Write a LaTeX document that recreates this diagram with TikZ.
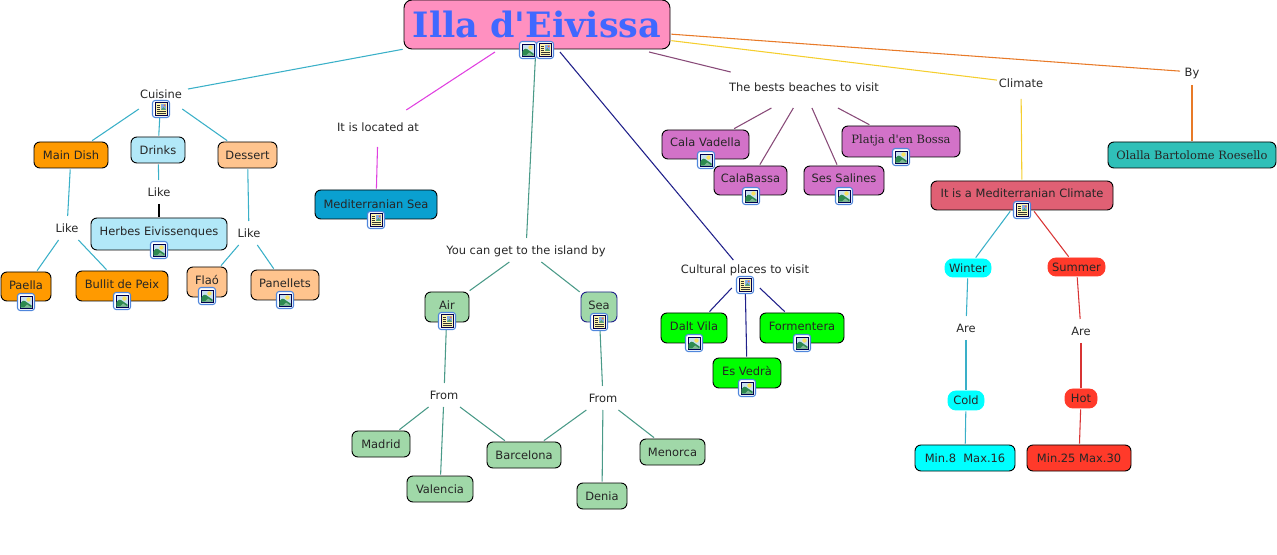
\documentclass[tikz,border=0pt]{standalone}
\usepackage{fontspec}
\setmainfont{DejaVu Sans}
\newfontfamily\titlefont{DejaVu Serif}
\usetikzlibrary{positioning}
\definecolor{titlepink}{HTML}{FF90C0}
\definecolor{titleblue}{HTML}{4068FF}
\definecolor{dishorange}{HTML}{FF9A00}
\definecolor{herbblue}{HTML}{B2E8F8}
\definecolor{sweetpeach}{HTML}{FFC48E}
\definecolor{seablue}{HTML}{0AA0D0}
\definecolor{beachorchid}{HTML}{D272C8}
\definecolor{placegreen}{HTML}{00FF00}
\definecolor{citygreen}{HTML}{A0D8A8}
\definecolor{climatered}{HTML}{E06074}
\definecolor{coldcyan}{HTML}{00FFFF}
\definecolor{hotred}{HTML}{FF3A2A}
\definecolor{authorteal}{HTML}{30C0B8}
\definecolor{linkteal}{HTML}{3AB0C8}
\definecolor{linkmagenta}{HTML}{E040E0}
\definecolor{linkgreen}{HTML}{4A9A88}
\definecolor{linknavy}{HTML}{20208A}
\definecolor{linkplum}{HTML}{884A78}
\definecolor{linkyellow}{HTML}{F5CE2E}
\definecolor{linkorange}{HTML}{E87A28}
\definecolor{linkred}{HTML}{D83434}
\definecolor{iconframe}{HTML}{4F86DC}
\definecolor{iconsky}{HTML}{C8E0F0}
\definecolor{iconhill}{HTML}{2E8A50}
\definecolor{iconsun}{HTML}{F8E060}
\definecolor{iconpaper}{HTML}{FFF6B0}

\tikzset{
  sized/.style 2 args={minimum width=#1*0.75pt, minimum height=#2*0.75pt},
  concept/.style={rectangle, draw=black, line width=0.7pt, rounded corners=4.5pt,
                  inner sep=0pt, outer sep=1pt, text height=7.5pt, text depth=1pt,
                  text=black!85, font=\fontsize{8.6}{10}\selectfont},
  phrase/.style={rectangle, inner sep=0pt, outer sep=0pt, text height=7.5pt, text depth=1pt,
                 text=black!85, font=\fontsize{8.6}{10}\selectfont},
  link/.style={line width=0.8pt},
  photo icon/.pic={
    \draw[draw=iconframe, line width=0.8pt, fill=white, rounded corners=2pt] (-8.5,-8.5) rectangle (8.5,8.5);
    \draw[draw=black!70!blue, line width=0.7pt, fill=iconsky] (-6,-6) rectangle (6,6);
    \fill[iconhill] (-5.6,5.6) -- (-5.6,1.5) .. controls (-3,-2.5) and (-1.5,-1.5) .. (1,0.5) -- (5.6,3.5) -- (5.6,5.6) -- cycle;
    \fill[iconhill!60!white] (-2,5.6) -- (1,2.5) -- (5.6,5.6) -- cycle;
    \fill[iconsun] (2.5,-2.5) circle (2.2);
  },
  doc icon/.pic={
    \draw[draw=iconframe, line width=0.8pt, fill=white, rounded corners=2pt] (-8.5,-8.5) rectangle (8.5,8.5);
    \draw[draw=black!70!blue, line width=0.7pt, fill=iconpaper] (-6,-6.5) rectangle (6,6.5);
    \foreach \yy in {-3.5,-1.5,0.5}
      \draw[line width=0.45pt, black!80] (-4.5,\yy) -- (-1,\yy);
    \foreach \yy in {2.7,4.7}
      \draw[line width=0.45pt, black!80] (-4.5,\yy) -- (4.5,\yy);
    \fill[iconframe!70!white] (0,-5.2) rectangle (5,0.8);
    \fill[iconhill!80!white] (0,0.8) -- (2.5,-2) -- (5,0.8) -- cycle;
    \fill[red!50!iconsun] (3.5,-3.5) circle (1);
  },
}

\begin{document}
\begin{tikzpicture}[x=0.75pt, y=-0.75pt]
  \useasboundingbox (0,0) rectangle (1277,555);

  % Title
  \node[concept, fill=titlepink, sized={266}{49}, rounded corners=6pt, text=titleblue,
        outer xsep=1pt, outer ysep=2.25pt, text height=20pt, text depth=1pt,
        font=\titlefont\bfseries\fontsize{26.2}{30}\selectfont] (title) at (537,24.5) {Illa d'Eivissa};

  % Cuisine
  \node[phrase, sized={54}{30}] (cuisine) at (161,94) {Cuisine};
  \node[concept, fill=dishorange, sized={74}{26}] (maindish) at (71,155) {Main Dish};
  \node[concept, fill=herbblue, sized={54}{26}] (drinks) at (158,150) {Drinks};
  \node[concept, fill=sweetpeach, sized={59}{26}] (dessert) at (247.5,155) {Dessert};
  \node[phrase, sized={34}{24}] (likedish) at (67,228) {Like};
  \node[phrase, sized={34}{24}] (likedrink) at (159,192) {Like};
  \node[phrase, sized={34}{24}] (likesweet) at (249,233) {Like};
  \node[concept, fill=herbblue, sized={136}{32}, text depth=5.5pt] (herbes) at (159,234) {Herbes Eivissenques};
  \node[concept, fill=dishorange, sized={50}{29}, text depth=3.5pt] (paella) at (26,286.5) {Paella};
  \node[concept, fill=dishorange, sized={92}{30}, text depth=4pt] (bullit) at (122,286) {Bullit de Peix};
  \node[concept, fill=sweetpeach, sized={40}{30}, text depth=4pt] (flao) at (207,282) {Flaó};
  \node[concept, fill=sweetpeach, sized={68}{30}, text depth=4pt] (panellets) at (285,285) {Panellets};

  % Location
  \node[phrase, sized={84}{37}, text depth=3.3pt] (located) at (378,128.5) {It is located at};
  \node[concept, fill=seablue, sized={122}{29}] (medsea) at (376,204.5) {Mediterranian Sea};

  % Getting there
  \node[phrase, sized={170}{24}] (getby) at (526,250) {You can get to the island by};
  \node[concept, fill=citygreen, sized={44}{30}, text depth=4pt] (air) at (447,307) {Air};
  \node[concept, draw=linknavy, fill=citygreen, sized={36}{30}, text depth=4pt] (sea) at (599,307) {Sea};
  \node[phrase, sized={34}{24}] (fromair) at (444,395) {From};
  \node[phrase, sized={34}{24}] (fromsea) at (603,398) {From};
  \node[concept, fill=citygreen, sized={58}{26}] (madrid) at (381,444) {Madrid};
  \node[concept, fill=citygreen, sized={66}{26}] (valencia) at (440,489) {Valencia};
  \node[concept, fill=citygreen, sized={74}{26}] (barcelona) at (524,455) {Barcelona};
  \node[concept, fill=citygreen, sized={50}{26}] (denia) at (602,496) {Denia};
  \node[concept, fill=citygreen, sized={65}{26}] (menorca) at (672.5,452) {Menorca};

  % Cultural places
  \node[phrase, sized={132}{28}, text depth=8.5pt] (cultural) at (745,274) {Cultural places to visit};
  \node[concept, fill=placegreen, sized={66}{30}, text depth=4pt] (daltvila) at (694,328) {Dalt Vila};
  \node[concept, fill=placegreen, sized={84}{30}, text depth=4pt] (formentera) at (802,328) {Formentera};
  \node[concept, fill=placegreen, sized={68}{30}, text depth=4pt] (esvedra) at (747,373) {Es Vedrà};

  % Beaches
  \node[phrase, sized={140}{36}, text depth=5.5pt] (beaches) at (804,90) {The bests beaches to visit};
  \node[concept, fill=beachorchid, sized={87}{29}, text depth=4pt] (vadella) at (705.5,144.5) {Cala Vadella};
  \node[concept, fill=beachorchid, sized={73}{29}, text depth=4pt] (calabassa) at (750.5,180.5) {CalaBassa};
  \node[concept, fill=beachorchid, sized={80}{29}, text depth=4pt] (salines) at (844,180.5) {Ses Salines};
  \node[concept, fill=beachorchid, sized={118}{31}, text depth=5pt, font=\fontsize{8.6}{10}\selectfont\titlefont] (bossa) at (901,141.5) {Platja d'en Bossa};

  % Climate
  \node[phrase, sized={48}{32}] (climate) at (1021,83) {Climate};
  \node[phrase, sized={24}{26}] (by) at (1192,72) {By};
  \node[concept, fill=authorteal, sized={168}{26}, font=\fontsize{8.6}{10}\selectfont\titlefont] (olalla) at (1192,155) {Olalla Bartolome Roesello};
  \node[concept, fill=climatered, sized={182}{29}, text depth=5pt] (medclimate) at (1022,195.5) {It is a Mediterranian Climate};
  \node[concept, draw=coldcyan, fill=coldcyan, sized={46}{18}, rounded corners=6pt] (winter) at (968,268) {Winter};
  \node[concept, draw=hotred, fill=hotred, sized={57}{18}, rounded corners=6pt] (summer) at (1076.5,267) {Summer};
  \node[phrase, sized={26}{24}] (arecold) at (966,328) {Are};
  \node[phrase, sized={26}{24}] (arehot) at (1081,331) {Are};
  \node[concept, draw=coldcyan, fill=coldcyan, sized={36}{19}, rounded corners=6pt] (cold) at (966,400.5) {Cold};
  \node[concept, draw=hotred, fill=hotred, sized={32}{19}, rounded corners=6pt] (hot) at (1081,398.5) {Hot};
  \node[concept, fill=coldcyan, sized={100}{26}] (mincold) at (965,458) {Min.8\ \ Max.16};
  \node[concept, fill=hotred, sized={104}{26}] (minhot) at (1079,458) {Min.25 Max.30};

  % Links from the title
  \draw[link, linkteal] (title) -- (cuisine);
  \draw[link, linkmagenta] (title) -- (located);
  \draw[link, linkgreen] (title) -- (getby);
  \draw[link, linknavy] (title) -- (cultural);
  \draw[link, linkplum] (title) -- (beaches);
  \draw[link, linkyellow] (title) -- (climate);
  \draw[link, linkorange] (title) -- (by);

  % Cuisine links
  \draw[link, linkteal] (cuisine) -- (maindish);
  \draw[link, linkteal] (cuisine) -- (drinks);
  \draw[link, linkteal] (cuisine) -- (dessert);
  \draw[link, linkteal] (maindish) -- (likedish);
  \draw[link, linkteal] (drinks) -- (likedrink);
  \draw[link, black] (likedrink) -- (herbes);
  \draw[link, linkteal] (dessert) -- (likesweet);
  \draw[link, linkteal] (likedish) -- (paella);
  \draw[link, linkteal] (likedish) -- (bullit);
  \draw[link, linkteal] (likesweet) -- (flao);
  \draw[link, linkteal] (likesweet) -- (panellets);

  \draw[link, linkmagenta] (located) -- (medsea);

  % Travel links
  \draw[link, linkgreen] (getby) -- (air);
  \draw[link, linkgreen] (getby) -- (sea);
  \draw[link, linkgreen] (air) -- (fromair);
  \draw[link, linkgreen] (sea) -- (fromsea);
  \draw[link, linkgreen] (fromair) -- (madrid);
  \draw[link, linkgreen] (fromair) -- (valencia);
  \draw[link, linkgreen] (fromair) -- (barcelona);
  \draw[link, linkgreen] (fromsea) -- (barcelona);
  \draw[link, linkgreen] (fromsea) -- (denia);
  \draw[link, linkgreen] (fromsea) -- (menorca);

  \draw[link, linknavy] (cultural) -- (daltvila);
  \draw[link, linknavy] (cultural) -- (formentera);
  \draw[link, linknavy] (cultural) -- (esvedra);

  \draw[link, linkplum] (beaches) -- (vadella);
  \draw[link, linkplum] (beaches) -- (calabassa);
  \draw[link, linkplum] (beaches) -- (salines);
  \draw[link, linkplum] (beaches) -- (bossa);

  % Climate links
  \draw[link, linkyellow] (climate) -- (medclimate);
  \draw[link, linkorange] (by) -- (olalla);
  \draw[link, linkteal] (medclimate) -- (winter);
  \draw[link, linkred] (medclimate) -- (summer);
  \draw[link, linkteal] (winter) -- (arecold);
  \draw[link, linkteal] (arecold) -- (cold);
  \draw[link, linkteal] (cold) -- (mincold);
  \draw[link, linkred] (summer) -- (arehot);
  \draw[link, linkred] (arehot) -- (hot);
  \draw[link, linkred] (hot) -- (minhot);

  % Icons
  \foreach \ix/\iy in {528/50, 26/302, 122/301, 159/250, 207/296, 285/300, 694/343, 802/343, 747/388,
                       706/160, 751/196, 844/196, 901/157}
    \pic at (\ix,\iy) {photo icon};
  \foreach \ix/\iy in {545/50, 161/109, 376/220, 447/321, 599/322, 745/285, 1022/210}
    \pic at (\ix,\iy) {doc icon};
\end{tikzpicture}
\end{document}
